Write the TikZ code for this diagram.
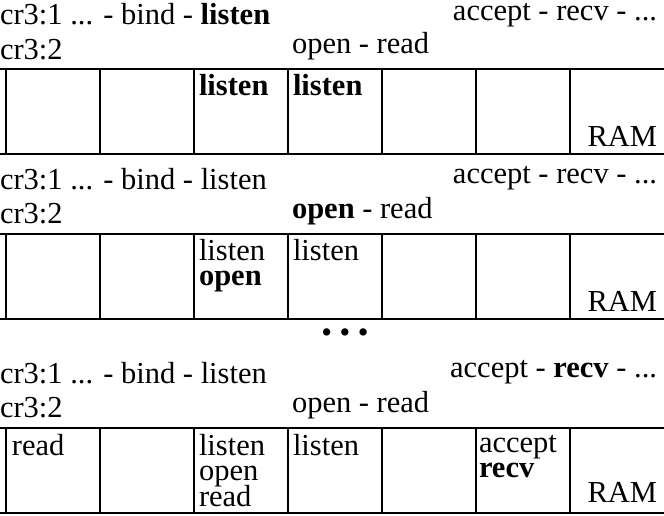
\documentclass[tikz,border=0pt]{standalone}
\usepackage{fontspec}
\setmainfont{Liberation Serif}
\begin{document}
\begin{tikzpicture}[x=1pt,y=-1pt,
  txt/.style={inner sep=0pt,outer sep=0pt,font=\fontsize{30.5}{30.5}\selectfont},
  lft/.style={txt,anchor=base west},
  rgt/.style={txt,anchor=base east},
  cell/.style={lft,text height=19pt,text depth=4pt},
  grid/.style={line width=1.8pt}]
\useasboundingbox (0,0) rectangle (664,515);
% ---------- panel 1 ----------
\node[lft] (p1a) at (0,24) {cr3:1 ... - bind - \textbf{listen}};
\node[lft] (p1b) at (0,59) {cr3:2};
\node[rgt] (p1c) at (657,20) {accept - recv - ...};
\node[lft] (p1d) at (292,53) {open - read};
\draw[grid] (0,69) -- (664,69) (0,154) -- (664,154);
\foreach \x in {6,100,194,288,382,476,570} \draw[grid] (\x,69) -- (\x,154);
\node[cell] (c1a) at (199,95) {\textbf{listen}};
\node[cell] (c1b) at (293,95) {\textbf{listen}};
\node[rgt] (r1) at (657,146) {RAM};
% ---------- panel 2 ----------
\node[lft] (p2a) at (0,189) {cr3:1 ... - bind - listen};
\node[lft] (p2b) at (0,223) {cr3:2};
\node[rgt] (p2c) at (657,183) {accept - recv - ...};
\node[lft] (p2d) at (292,218) {\textbf{open} - read};
\draw[grid] (0,234) -- (664,234) (0,319) -- (664,319);
\foreach \x in {6,100,194,288,382,476,570} \draw[grid] (\x,234) -- (\x,319);
\node[cell] (c2a) at (199,260) {listen};
\node[cell] (c2b) at (199,285) {\textbf{open}};
\node[cell] (c2c) at (293,260) {listen};
\node[rgt] (r2) at (657,311) {RAM};
% ---------- dots ----------
\node[txt,anchor=center] (dots) at (345,336) {\textbullet\ \textbullet\ \textbullet};
% ---------- panel 3 ----------
\node[lft] (p3a) at (0,383) {cr3:1 ... - bind - listen};
\node[lft] (p3b) at (0,417) {cr3:2};
\node[rgt] (p3c) at (657,377) {accept - \textbf{recv} - ...};
\node[lft] (p3d) at (292,412) {open - read};
\draw[grid] (0,428) -- (664,428) (0,513) -- (664,513);
\foreach \x in {6,100,194,288,382,476,570} \draw[grid] (\x,428) -- (\x,513);
\node[cell] (c3r) at (12,455) {read};
\node[cell] (c3a) at (199,455) {listen};
\node[cell] (c3b) at (199,480) {open};
\node[cell] (c3c) at (199,506) {read};
\node[cell] (c3d) at (293,455) {listen};
\node[cell] (c3e) at (479,452) {accept};
\node[cell] (c3f) at (479,477) {\textbf{recv}};
\node[rgt] (r3) at (657,502) {RAM};
\end{tikzpicture}
\end{document}
